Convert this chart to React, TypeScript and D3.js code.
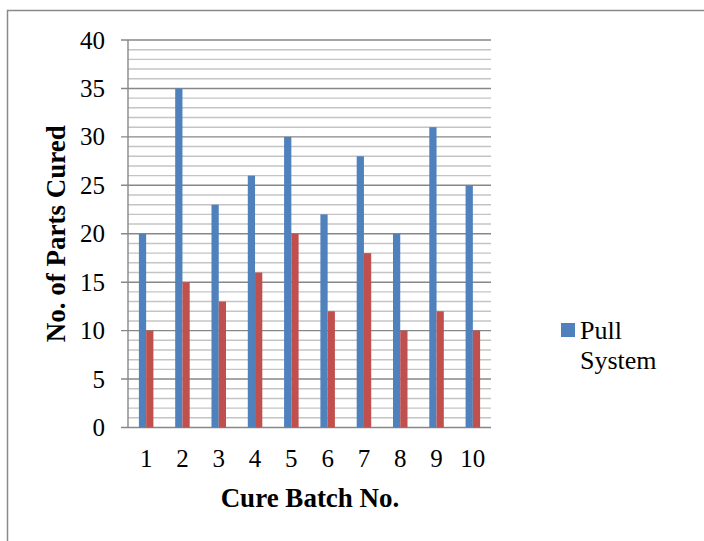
import { useEffect } from 'react';
import * as d3 from 'd3';

const batches = ['1', '2', '3', '4', '5', '6', '7', '8', '9', '10'];
const pullSystem = [20, 35, 23, 26, 30, 22, 28, 20, 31, 25];
const pushSystem = [10, 15, 13, 16, 20, 12, 18, 10, 12, 10];
const yTicks = [0, 5, 10, 15, 20, 25, 30, 35, 40];
const minorTicks = d3.range(0, 41, 1);

const BLUE = '#4F81BD';
const RED = '#C0504D';
const FONT = '"Liberation Serif", "Times New Roman", serif';

export default function App() {
  useEffect(() => {
    document.body.style.margin = '0';
  }, []);

  const width = 704;
  const height = 541;
  const plot = { left: 128, right: 491, top: 40, bottom: 427.5 };

  const x = d3.scaleBand().domain(batches).range([plot.left, plot.right]).paddingInner(0).paddingOuter(0);
  const y = d3.scaleLinear().domain([0, 40]).range([plot.bottom, plot.top]);
  const barW = x.bandwidth() * 0.2;

  return (
    <svg width={width} height={height} style={{ display: 'block', background: '#fff' }}>
      {/* outer frame */}
      <rect x={7.5} y={10.5} width={width + 10} height={height + 10} fill="#fff" stroke="#8a8a8a" strokeWidth={1.5} />

      {/* minor gridlines */}
      {minorTicks.filter(t => t % 5 !== 0).map(t => (
        <line key={'m' + t} x1={plot.left} x2={plot.right} y1={y(t)} y2={y(t)} stroke="#c4c4c4" strokeWidth={1.4} />
      ))}
      {/* major gridlines + ticks */}
      {yTicks.map(t => (
        <g key={'M' + t}>
          <line x1={plot.left - 7} x2={plot.right} y1={y(t)} y2={y(t)} stroke="#878787" strokeWidth={1.4} />
          <text x={105} y={y(t) + 8.5} textAnchor="end" fontFamily={FONT} fontSize={25} fill="#000">{t}</text>
        </g>
      ))}
      <line x1={plot.left} x2={plot.left} y1={plot.top} y2={plot.bottom} stroke="#878787" strokeWidth={1.4} />

      {/* bars */}
      {batches.map((b, i) => {
        const cx = (x(b) ?? 0) + x.bandwidth() / 2;
        return (
          <g key={b}>
            <rect x={cx - barW} y={y(pullSystem[i])} width={barW} height={y(0) - y(pullSystem[i])} fill={BLUE} />
            <rect x={cx} y={y(pushSystem[i])} width={barW} height={y(0) - y(pushSystem[i])} fill={RED} />
            <text x={cx} y={467} textAnchor="middle" fontFamily={FONT} fontSize={25} fill="#000">{b}</text>
          </g>
        );
      })}

      {/* axis titles */}
      <text x={310} y={507} textAnchor="middle" fontFamily={FONT} fontSize={27} fontWeight="bold" fill="#000">Cure Batch No.</text>
      <text transform={`translate(65, ${(plot.top + plot.bottom) / 2}) rotate(-90)`} textAnchor="middle" fontFamily={FONT} fontSize={27} fontWeight="bold" fill="#000">No. of Parts Cured</text>

      {/* legend */}
      <rect x={561} y={323} width={14} height={14} fill={BLUE} />
      <text x={580} y={339} fontFamily={FONT} fontSize={26} fill="#000">Pull</text>
      <text x={580} y={369} fontFamily={FONT} fontSize={26} fill="#000">System</text>
    </svg>
  );
}
